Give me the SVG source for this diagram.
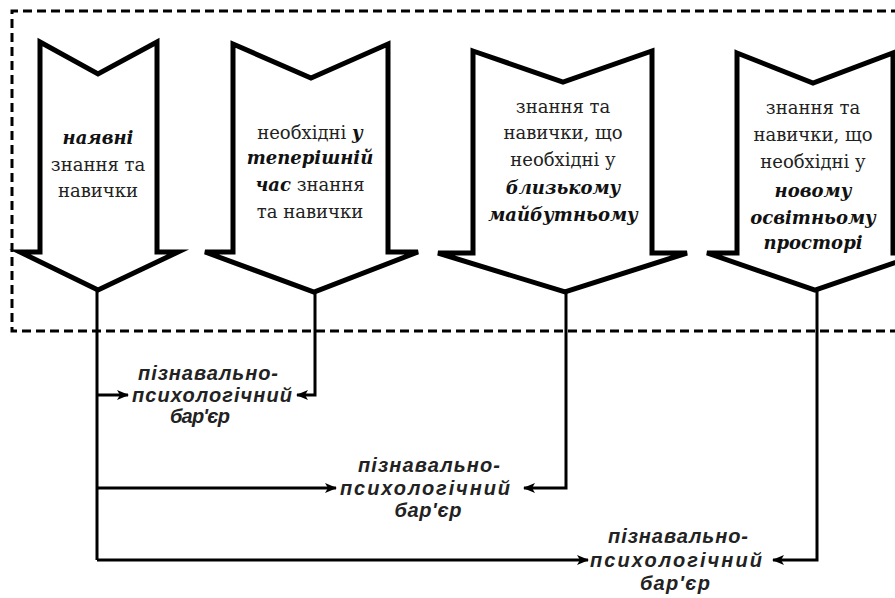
<svg xmlns="http://www.w3.org/2000/svg" width="895" height="598" viewBox="0 0 895 598">
<style>
.frame{fill:none;stroke:#000;stroke-width:3;stroke-dasharray:9 5}
.arrow{fill:#fff;stroke:#000;stroke-width:5;stroke-linejoin:miter;stroke-miterlimit:5}
.t{font-family:"DejaVu Serif","Liberation Serif",serif;font-size:18px;fill:#222;text-anchor:middle}
.bi{font-weight:bold;font-style:italic;fill:#111}
.lbl{font-family:"Liberation Sans",Arial,sans-serif;font-size:20px;font-weight:bold;font-style:italic;fill:#222;text-anchor:middle}
.conn{fill:none;stroke:#000;stroke-width:3}
</style>
<defs>
<marker id="ah" viewBox="0 0 12 10" refX="11" refY="5" markerWidth="12" markerHeight="10" markerUnits="userSpaceOnUse" orient="auto">
<path d="M0,0 L12,5 L0,10 L3,5 Z" fill="#000"/>
</marker>
</defs>
<rect width="895" height="598" fill="#fff"/>
<path class="frame" d="M900,11 H12 V331 H900"/>

<g id="node1">
<polygon class="arrow" points="40,42 98,74 157,42 157,252 178,252 98,290 20,252 40,252"/>
<text class="t" x="98" y="144"><tspan class="bi">наявні</tspan></text>
<text class="t" x="98" y="171">знання та</text>
<text class="t" x="98" y="197">навички</text>
</g>

<g id="node2">
<polygon class="arrow" points="233,44 311,78 388,44 388,252 418,252 314,292 205,252 233,252"/>
<text class="t" x="310" y="139">необхідні <tspan class="bi">у</tspan></text>
<text class="t" x="310" y="164"><tspan class="bi">теперішній</tspan></text>
<text class="t" x="310" y="191"><tspan class="bi">час</tspan> знання</text>
<text class="t" x="310" y="218">та навички</text>
</g>

<g id="node3">
<polygon class="arrow" points="473,51 563,82 652,51 652,253 687,253 565,292 438,253 473,253"/>
<text class="t" x="563" y="113">знання та</text>
<text class="t" x="563" y="139">навички, що</text>
<text class="t" x="563" y="166">необхідні у</text>
<text class="t" x="563" y="194"><tspan class="bi">близькому</tspan></text>
<text class="t" x="563" y="221"><tspan class="bi">майбутньому</tspan></text>
</g>

<g id="node4">
<polygon class="arrow" points="737,53 813,83 893,53 893,253 923,253 815,290 707,253 737,253"/>
<text class="t" x="813" y="114">знання та</text>
<text class="t" x="813" y="141">навички, що</text>
<text class="t" x="813" y="168">необхідні у</text>
<text class="t" x="813" y="197"><tspan class="bi">новому</tspan></text>
<text class="t" x="813" y="224"><tspan class="bi">освітньому</tspan></text>
<text class="t" x="813" y="249"><tspan class="bi">просторі</tspan></text>
</g>

<g id="connectors">
<path class="conn" d="M97,290 V560"/>
<path class="conn" d="M97,395 H128" marker-end="url(#ah)"/>
<path class="conn" d="M315,292 V395 H297" marker-end="url(#ah)"/>
<path class="conn" d="M97,488 H336" marker-end="url(#ah)"/>
<path class="conn" d="M566,292 V488 H524" marker-end="url(#ah)"/>
<path class="conn" d="M97,560 H588" marker-end="url(#ah)"/>
<path class="conn" d="M817,290 V560 H773" marker-end="url(#ah)"/>
</g>

<g id="label1">
<text class="lbl" x="208" y="380" textLength="140" lengthAdjust="spacing">пізнавально-</text>
<text class="lbl" x="212" y="402" textLength="160" lengthAdjust="spacing">психологічний</text>
<text class="lbl" x="200" y="423" textLength="60" lengthAdjust="spacing">бар'єр</text>
</g>
<g id="label2">
<text class="lbl" x="429" y="472" textLength="142" lengthAdjust="spacing">пізнавально-</text>
<text class="lbl" x="425" y="495" textLength="170" lengthAdjust="spacing">психологічний</text>
<text class="lbl" x="428" y="517" textLength="67" lengthAdjust="spacing">бар'єр</text>
</g>
<g id="label3">
<text class="lbl" x="678" y="543" textLength="140" lengthAdjust="spacing">пізнавально-</text>
<text class="lbl" x="676" y="567" textLength="172" lengthAdjust="spacing">психологічний</text>
<text class="lbl" x="675" y="590" textLength="70" lengthAdjust="spacing">бар'єр</text>
</g>
</svg>
